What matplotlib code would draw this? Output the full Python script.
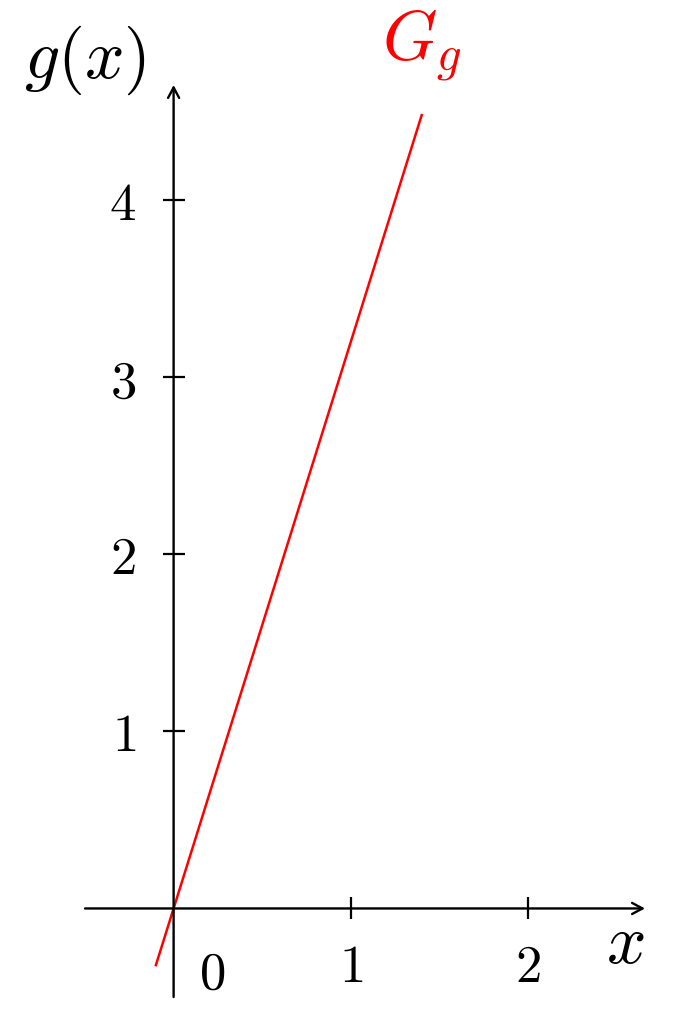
import numpy as np
import matplotlib
matplotlib.use("Agg")
import matplotlib.pyplot as plt

plt.rcParams['mathtext.fontset'] = 'cm'
plt.rcParams['font.family'] = ['DejaVu Serif']

# data
slope = 3.2
x_line = np.array([-0.1, 1.4])
y_line = slope * x_line
xticks = [1, 2]
yticks = [1, 2, 3, 4]
xlim = (-0.5, 2.66)
ylim = (-0.5, 4.65)

fig = plt.figure(figsize=(6.92, 10.13), dpi=100)
W, H = 692, 1013
ax = fig.add_axes([85 / W, (H - 997) / H, 560 / W, 912 / H])
ax.set_xlim(*xlim)
ax.set_ylim(*ylim)

for s in ['top', 'right']:
    ax.spines[s].set_visible(False)
ax.spines['left'].set_position(('data', 0))
ax.spines['bottom'].set_position(('data', 0))
ax.spines['left'].set_visible(False)
ax.spines['bottom'].set_visible(False)

# axis lines with arrows
arrow = dict(arrowstyle='->,head_length=0.75,head_width=0.4', lw=1.7,
             color='black', shrinkA=0, shrinkB=0)
ax.annotate('', xy=(xlim[1], 0), xytext=(xlim[0], 0), arrowprops=arrow,
            annotation_clip=False)
ax.annotate('', xy=(0, ylim[1]), xytext=(0, ylim[0]), arrowprops=arrow,
            annotation_clip=False)

ax.set_xticks(xticks)
ax.set_xticklabels([f'${t}$' for t in xticks])
ax.set_yticks(yticks)
ax.set_yticklabels([f'${t}$' for t in yticks])
ax.tick_params(direction='inout', length=16, width=1.6, labelsize=38)
ax.tick_params(axis='x', pad=16)
ax.tick_params(axis='y', pad=19)

ax.text(0.215, -0.37, '$0$', fontsize=38, ha='center', va='center')

ax.plot(x_line, y_line, color='red', lw=1.8, clip_on=False)

ax.text(2.55, -0.2, '$x$', fontsize=50, ha='center', va='center')
fig.text(85 / W, 1 - 60 / H, '$g(x)$', fontsize=50, ha='center', va='center')
ax.text(1.40, 4.87, '$G_g$', fontsize=50, color='red', ha='center',
        va='center', clip_on=False)

fig.savefig('out.png', dpi=100)
